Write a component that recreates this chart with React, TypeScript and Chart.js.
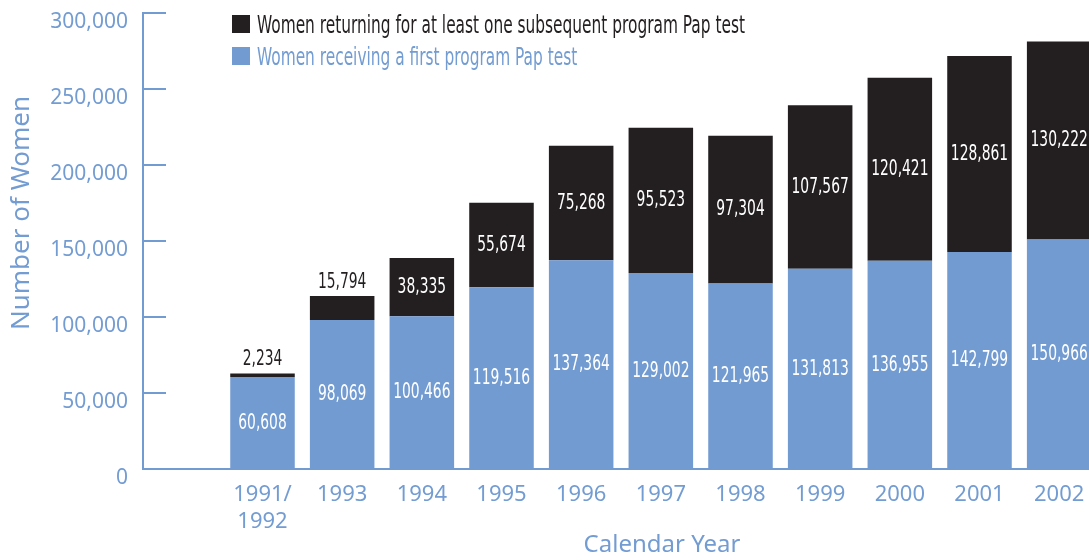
import React, { useEffect, useRef } from "react";
import { Chart, registerables } from "chart.js";

Chart.register(...registerables);

// ---- data ----
const categories = ["1991/\n1992", "1993", "1994", "1995", "1996", "1997", "1998", "1999", "2000", "2001", "2002"];
const firstTest = [60608, 98069, 100466, 119516, 137364, 129002, 121965, 131813, 136955, 142799, 150966];
const subsequentTest = [2234, 15794, 38335, 55674, 75268, 95523, 97304, 107567, 120421, 128861, 130222];
const seriesLabels = [
  "Women returning for at least one subsequent program Pap test",
  "Women receiving a first program Pap test",
];
const yMax = 300000;
const yStep = 50000;
const xTitle = "Calendar Year";
const yTitle = "Number of Women";

// ---- styles ----
const BLUE = "#729bd1";
const TEXT_BLUE = "#739cd2";
const BLACK = "#231f20";
const GEO = '"Noto Sans", "Open Sans", sans-serif';
const NARROW = '"DejaVu Sans Condensed", "Liberation Sans Narrow", sans-serif';
const SQUEEZE = 0.713;

const fmt = (v: number) => v.toLocaleString("en-US");

function squeezedText(ctx: any, text: string, x: number, y: number, k: number) {
  ctx.save();
  ctx.translate(x, y);
  ctx.scale(k, 1);
  ctx.fillText(text, 0, 0);
  ctx.restore();
}

const valueLabels = {
  id: "valueLabels",
  afterDatasetsDraw(chart: any) {
    const ctx = chart.ctx;
    ctx.save();
    ctx.font = `22px ${NARROW}`;
    ctx.textAlign = "center";
    ctx.textBaseline = "middle";
    chart.data.datasets.forEach((ds: any, di: number) => {
      const meta = chart.getDatasetMeta(di);
      meta.data.forEach((bar: any, i: number) => {
        const v = ds.data[i];
        if (v == null) return;
        const { x, y, base } = bar.getProps(["x", "y", "base"], true);
        const h = Math.abs(base - y);
        const text = fmt(v);
        if (h < 30) {
          ctx.fillStyle = BLACK;
          squeezedText(ctx, text, x, y - 14, 0.7);
        } else {
          ctx.fillStyle = "#ffffff";
          squeezedText(ctx, text, x, (y + base) / 2, 0.7);
        }
      });
    });
    ctx.restore();
  },
};

const innerTicks = {
  id: "innerTicks",
  afterDraw(chart: any) {
    const s = chart.scales.y;
    const ctx = chart.ctx;
    ctx.save();
    ctx.strokeStyle = BLUE;
    ctx.lineWidth = 2;
    s.ticks.forEach((t: any) => {
      if (t.value === 0) return;
      const py = Math.round(s.getPixelForValue(t.value));
      ctx.beginPath();
      ctx.moveTo(s.right - 1, py);
      ctx.lineTo(s.right + 23, py);
      ctx.stroke();
    });
    ctx.restore();
  },
};

const decorations = {
  id: "decorations",
  afterDraw(chart: any) {
    const ctx = chart.ctx;
    const area = chart.chartArea;
    ctx.save();
    // legend (top segment first)
    const order = [1, 0];
    ctx.font = `24px ${NARROW}`;
    ctx.textAlign = "left";
    ctx.textBaseline = "alphabetic";
    order.forEach((di, row) => {
      const ds = chart.data.datasets[di];
      const bx = area.left + 89;
      const by = area.top + 2 + row * 32;
      ctx.fillStyle = ds.backgroundColor;
      ctx.fillRect(bx, by, 18, 18);
      ctx.fillStyle = di === 1 ? BLACK : TEXT_BLUE;
      squeezedText(ctx, ds.label, bx + 25, by + 18, SQUEEZE);
    });
    // axis titles
    ctx.fillStyle = TEXT_BLUE;
    ctx.textAlign = "center";
    ctx.textBaseline = "middle";
    ctx.font = `24px ${GEO}`;
    ctx.fillText(xTitle, area.left + 519, chart.height - 15);
    ctx.save();
    ctx.translate(22, area.top + 200);
    ctx.rotate(-Math.PI / 2);
    ctx.font = `26px ${GEO}`;
    ctx.fillText(yTitle, 0, 0);
    ctx.restore();
    ctx.restore();
  },
};

export default function App() {
  const ref = useRef<HTMLCanvasElement>(null);
  useEffect(() => {
    if (!ref.current) return;
    const labels = ["", ...categories].map((c) => (c.includes("\n") ? c.split("\n") : c));
    const chart = new Chart(ref.current, {
      type: "bar",
      data: {
        labels,
        datasets: [
          {
            label: seriesLabels[1],
            data: [null, ...firstTest],
            backgroundColor: BLUE,
            categoryPercentage: 1,
            barPercentage: 0.81,
          },
          {
            label: seriesLabels[0],
            data: [null, ...subsequentTest],
            backgroundColor: BLACK,
            categoryPercentage: 1,
            barPercentage: 0.81,
          },
        ],
      },
      options: {
        responsive: false,
        animation: false,
        devicePixelRatio: 1,
        layout: { padding: { top: 13, right: 11, left: 0, bottom: 0 } },
        plugins: { legend: { display: false }, tooltip: { enabled: false } },
        scales: {
          x: {
            stacked: true,
            grid: { display: false, drawTicks: false },
            border: { display: true, color: BLUE, width: 2 },
            ticks: {
              color: TEXT_BLUE,
              font: { family: GEO, size: 22 },
              padding: 13,
              maxRotation: 0,
              autoSkip: false,
            },
            afterFit: (s: any) => {
              s.height = 91;
              s.paddingLeft = 0;
              s.paddingRight = 0;
            },
          },
          y: {
            stacked: true,
            min: 0,
            max: yMax,
            grid: { display: false, drawTicks: false },
            border: { display: true, color: BLUE, width: 2 },
            ticks: {
              stepSize: yStep,
              color: TEXT_BLUE,
              font: { family: GEO, size: 21 },
              padding: 15,
              labelOffset: 9,
              callback: (v: any) => fmt(Number(v)),
            },
            afterFit: (s: any) => {
              s.width = 143;
              s.paddingTop = 0;
              s.paddingBottom = 0;
            },
          },
        },
      },
      plugins: [valueLabels, innerTicks, decorations],
    });
    return () => chart.destroy();
  }, []);
  return (
    <div style={{ position: "absolute", left: 0, top: 0, width: 1089, height: 560, overflow: "hidden", background: "#fff" }}>
      <canvas ref={ref} width={1110} height={560} style={{ width: 1110, height: 560, display: "block" }} />
    </div>
  );
}
